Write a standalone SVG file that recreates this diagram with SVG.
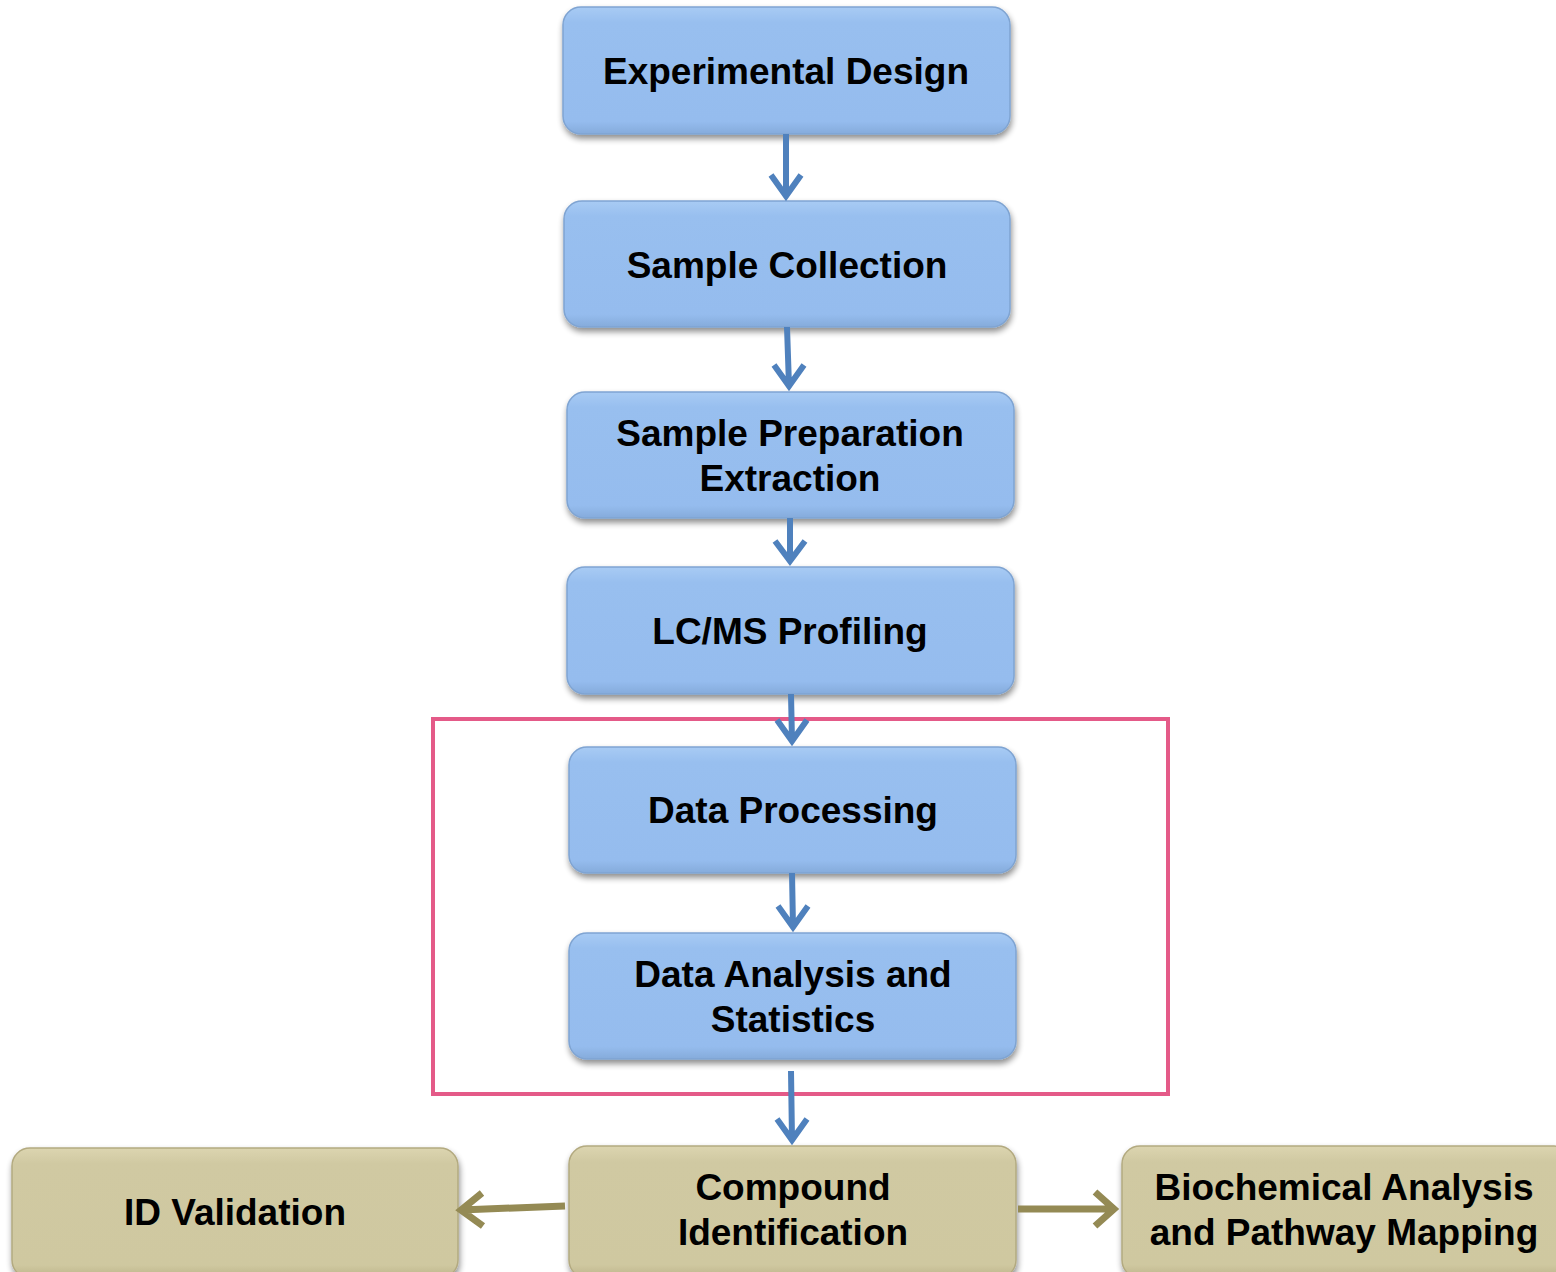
<svg xmlns="http://www.w3.org/2000/svg" width="1556" height="1272" viewBox="0 0 1556 1272">
<defs>
<linearGradient id="gb" x1="0" y1="0" x2="0" y2="1">
<stop offset="0" stop-color="#A8CBF4"/>
<stop offset="0.12" stop-color="#98BFEF"/>
<stop offset="0.9" stop-color="#95BCEE"/>
<stop offset="1" stop-color="#85ABDB"/>
</linearGradient>
<linearGradient id="gt" x1="0" y1="0" x2="0" y2="1">
<stop offset="0" stop-color="#DCD5B0"/>
<stop offset="0.12" stop-color="#D0C9A2"/>
<stop offset="0.9" stop-color="#CFC8A0"/>
<stop offset="1" stop-color="#BDB48A"/>
</linearGradient>
<filter id="sh" x="-5%" y="-10%" width="110%" height="130%">
<feGaussianBlur in="SourceAlpha" stdDeviation="3"/>
<feOffset dx="1" dy="4" result="b"/>
<feComponentTransfer><feFuncA type="linear" slope="0.45"/></feComponentTransfer>
<feMerge><feMergeNode/><feMergeNode in="SourceGraphic"/></feMerge>
</filter>
</defs>
<style>
.bb{fill:url(#gb);stroke:#7FA4D2;stroke-width:1.5;filter:url(#sh)}
.tb{fill:url(#gt);stroke:#B3AA80;stroke-width:1.5;filter:url(#sh)}
text{font-family:"Liberation Sans",Arial,sans-serif;font-weight:bold;font-size:37px;fill:#000;text-anchor:middle}
.ab{fill:none;stroke:#4F81BD;stroke-width:6;stroke-linecap:butt}
.at{fill:none;stroke:#948A54;stroke-width:7}
</style>
<rect x="433" y="719" width="735" height="375" fill="none" stroke="#E45A88" stroke-width="4"/>
<g id="n1"><rect class="bb" x="563" y="7" width="447" height="127" rx="18"/><text x="786" y="84">Experimental Design</text></g>
<g id="n2"><rect class="bb" x="564" y="201" width="446" height="126" rx="18"/><text x="787" y="278">Sample Collection</text></g>
<g id="n3"><rect class="bb" x="567" y="392" width="447" height="126" rx="18"/><text x="790" y="446">Sample Preparation</text><text x="790" y="491">Extraction</text></g>
<g id="n4"><rect class="bb" x="567" y="567" width="447" height="127" rx="18"/><text x="790" y="644">LC/MS Profiling</text></g>
<g id="n5"><rect class="bb" x="569" y="747" width="447" height="126" rx="18"/><text x="793" y="823">Data Processing</text></g>
<g id="n6"><rect class="bb" x="569" y="933" width="447" height="126" rx="18"/><text x="793" y="987">Data Analysis and</text><text x="793" y="1032">Statistics</text></g>
<g id="n7"><rect class="tb" x="12" y="1148" width="446" height="130" rx="18"/><text x="235" y="1225">ID Validation</text></g>
<g id="n8"><rect class="tb" x="569" y="1146" width="447" height="132" rx="18"/><text x="793" y="1200">Compound</text><text x="793" y="1245">Identification</text></g>
<g id="n9"><rect class="tb" x="1122" y="1146" width="450" height="132" rx="18"/><text x="1344" y="1200">Biochemical Analysis</text><text x="1344" y="1245">and Pathway Mapping</text></g>
<g id="connectors">
<path class="ab" d="M786 134 L786 196 M771 175 L786 196 L801 175"/>
<path class="ab" d="M787 327 L789 386 M774 365 L789 386 L804 365"/>
<path class="ab" d="M790 518 L790 561 M775 541 L790 561 L805 541"/>
<path class="ab" d="M791 694 L792 741 M777 720 L792 741 L807 720"/>
<path class="ab" d="M792 873 L793 927 M778 906 L793 927 L808 906"/>
<path class="ab" d="M791 1071 L792 1140 M777 1119 L792 1140 L807 1119"/>
<path class="at" d="M565 1206 L461 1210 M482 1193 L461 1210 L483 1226"/>
<path class="at" d="M1018 1209 L1114 1209 M1095 1192 L1114 1209 L1095 1226"/>
</g>
</svg>
